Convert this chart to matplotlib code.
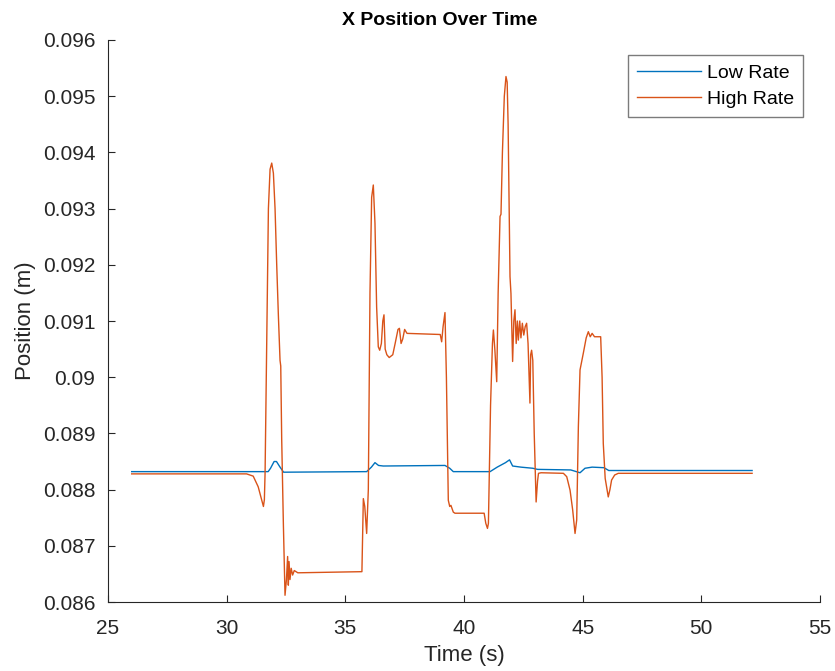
import matplotlib
matplotlib.use('Agg')
from matplotlib import pyplot as plt
from matplotlib.ticker import FuncFormatter

# Low rate trace (time s, x position m)
low_t = [26.0, 31.75, 31.85, 32.00, 32.10, 32.25, 32.40, 35.90, 36.10, 36.25,
         36.40, 36.60, 39.20, 39.40, 39.55, 41.10, 41.40, 41.75, 41.92, 42.05,
         42.40, 42.90, 43.10, 44.50, 44.89, 45.10, 45.40, 45.90, 46.10, 52.14]
low_x = [0.08832, 0.08832, 0.08838, 0.08850, 0.08850, 0.08840, 0.08831, 0.08832, 0.08840, 0.08848,
         0.08843, 0.08842, 0.08843, 0.08838, 0.08832, 0.08832, 0.08840, 0.08848, 0.08853, 0.08842,
         0.08840, 0.08838, 0.08836, 0.08835, 0.08830, 0.08838, 0.08840, 0.08839, 0.08834, 0.08834]

# High rate trace
high_t = [26.0, 30.84, 31.12, 31.33, 31.48, 31.55, 31.59, 31.62, 31.69, 31.76,
          31.83, 31.90, 31.97, 32.04, 32.11, 32.18, 32.25, 32.28, 32.32, 32.39,
          32.46, 32.52, 32.57, 32.60, 32.63, 32.67, 32.72, 32.78, 32.85, 33.0,
          35.70, 35.76, 35.82, 35.90, 35.97, 36.04, 36.11, 36.18, 36.25, 36.32,
          36.39, 36.45, 36.52, 36.58, 36.63, 36.68, 36.75, 36.85, 37.00, 37.10,
          37.22, 37.28, 37.35, 37.42, 37.50, 37.60, 39.00, 39.06, 39.12, 39.20,
          39.26, 39.34, 39.40, 39.45, 39.55, 39.62, 40.85, 40.92, 40.99, 41.03,
          41.12, 41.20, 41.24, 41.30, 41.38, 41.44, 41.52, 41.56, 41.62, 41.70,
          41.77, 41.82, 41.86, 41.92, 41.94, 41.98, 42.05, 42.10, 42.15, 42.20,
          42.25, 42.29, 42.35, 42.40, 42.46, 42.52, 42.58, 42.64, 42.70, 42.78,
          42.81, 42.85, 42.90, 42.96, 43.04, 43.10, 43.14, 43.25, 44.19, 44.33,
          44.47, 44.58, 44.68, 44.75, 44.82, 44.89, 45.03, 45.15, 45.24, 45.32,
          45.40, 45.50, 45.76, 45.82, 45.87, 45.95, 46.08, 46.15, 46.22, 46.35,
          46.5, 52.14]
high_x = [0.08828, 0.08828, 0.08824, 0.08805, 0.08781, 0.08770, 0.08782, 0.0883, 0.0907, 0.0930,
          0.0937, 0.09381, 0.09363, 0.0930, 0.0920, 0.0911, 0.0903, 0.0902, 0.0889, 0.0874,
          0.08612, 0.0864, 0.08681, 0.0863, 0.08672, 0.08640, 0.08660, 0.08648, 0.08656, 0.08652,
          0.08654, 0.08784, 0.08770, 0.08722, 0.0880, 0.0915, 0.0932, 0.09342, 0.09274, 0.09125,
          0.09054, 0.09048, 0.09060, 0.0910, 0.09111, 0.0905, 0.09040, 0.09035, 0.09040, 0.0906,
          0.09085, 0.09087, 0.0906, 0.09068, 0.09085, 0.09078, 0.09076, 0.09063, 0.0909, 0.09115,
          0.0900, 0.08781, 0.08770, 0.08772, 0.08760, 0.08758, 0.08758, 0.08740, 0.08731, 0.0874,
          0.0895, 0.0906, 0.09084, 0.0905, 0.08992, 0.0915, 0.09286, 0.09290, 0.0940, 0.0950,
          0.09535, 0.09525, 0.0945, 0.0925, 0.09179, 0.09149, 0.09028, 0.0910, 0.09120, 0.0906,
          0.0910, 0.09066, 0.0910, 0.0907, 0.09096, 0.09075, 0.09090, 0.09096, 0.0906, 0.08954,
          0.0904, 0.09048, 0.0903, 0.0890, 0.08778, 0.08815, 0.08829, 0.08830, 0.08829, 0.08823,
          0.08799, 0.08764, 0.08722, 0.08746, 0.08912, 0.09013, 0.09043, 0.0907, 0.09081, 0.09072,
          0.09078, 0.09072, 0.09072, 0.0900, 0.08882, 0.0882, 0.08787, 0.0880, 0.08817, 0.08826,
          0.08829, 0.08829]

xticks = [25, 30, 35, 40, 45, 50, 55]
yticks = [0.086, 0.087, 0.088, 0.089, 0.09, 0.091, 0.092, 0.093, 0.094, 0.095, 0.096]

plt.rcParams['font.family'] = ['Liberation Sans', 'DejaVu Sans']
axcol = '#262626'

fig = plt.figure(figsize=(8.35, 6.71), dpi=100)
ax = fig.add_axes([0.1293, 0.1028, 0.8527, 0.8376])

ax.plot(low_t, low_x, color='#0072BD', lw=1.0, label='Low Rate')
ax.plot(high_t, high_x, color='#D95319', lw=1.0, label='High Rate')

ax.set_xlim(25, 55)
ax.set_ylim(0.086, 0.096)
ax.set_xticks(xticks)
ax.set_yticks(yticks)
ax.yaxis.set_major_formatter(FuncFormatter(lambda v, p: '%g' % v))

ax.spines['top'].set_visible(False)
ax.spines['right'].set_visible(False)
for s in ['left', 'bottom']:
    ax.spines[s].set_color(axcol)
    ax.spines[s].set_linewidth(0.8)
ax.tick_params(direction='in', length=5, width=0.8, colors=axcol, labelsize=15)
ax.tick_params(axis='x', pad=12)
ax.tick_params(axis='y', pad=9)

ax.set_xlabel('Time (s)', fontsize=16, color=axcol, labelpad=5)
ax.set_ylabel('Position (m)', fontsize=16, color=axcol, labelpad=5)
ax.set_title('X Position Over Time', fontsize=14, fontweight='bold', x=0.466, pad=11)

leg = ax.legend(loc='upper right', bbox_to_anchor=(0.976, 0.973), borderaxespad=0,
                fontsize=14, frameon=True, fancybox=False, edgecolor='#5a5a5a',
                handlelength=3.3, borderpad=0.45, labelspacing=0.45, handletextpad=0.3)
leg.get_frame().set_linewidth(1.0)

fig.savefig('out.png', dpi=100)
